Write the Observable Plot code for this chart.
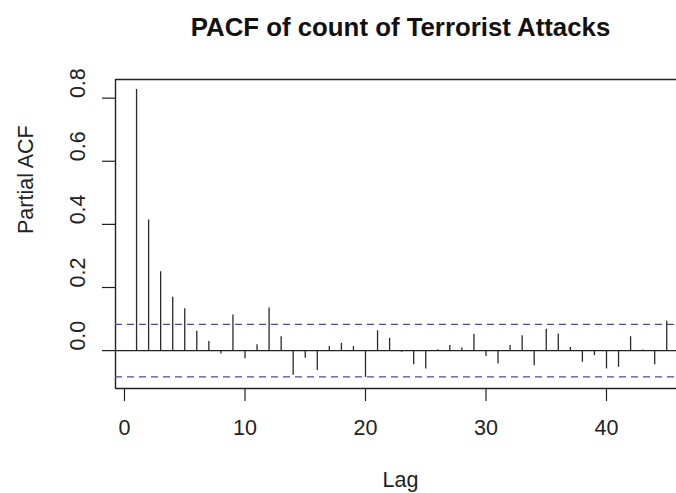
<!DOCTYPE html>
<html>
<head>
<meta charset="utf-8">
<script src="https://cdn.jsdelivr.net/npm/d3@7"></script>
<script src="https://cdn.jsdelivr.net/npm/@observablehq/plot@0.6"></script>
<style>
  html, body { margin: 0; padding: 0; background: #fff; }
  #chart svg { display: block; }
</style>
</head>
<body>
<div id="chart"></div>
<script>
const lags = [1,2,3,4,5,6,7,8,9,10,11,12,13,14,15,16,17,18,19,20,21,22,23,24,25,26,27,28,29,30,31,32,33,34,35,36,37,38,39,40,41,42,43,44,45];
const pacfValues = [0.827,0.414,0.250,0.169,0.133,0.061,0.029,-0.011,0.113,-0.026,0.019,0.135,0.044,-0.078,-0.024,-0.063,0.013,0.023,0.013,-0.085,0.063,0.039,-0.005,-0.045,-0.058,0.003,0.016,0.008,0.052,-0.019,-0.042,0.016,0.047,-0.048,0.068,0.053,0.010,-0.037,-0.016,-0.058,-0.053,0.044,0.002,-0.045,0.093];
const confBounds = [0.083, -0.083];
const xTicks = [0, 10, 20, 30, 40];
const yTicks = [0.0, 0.2, 0.4, 0.6, 0.8];
const yTickLabels = ["0.0", "0.2", "0.4", "0.6", "0.8"];
const titleText = "PACF of count of Terrorist Attacks";
const xLabel = "Lag";
const yLabel = "Partial ACF";

const data = lags.map((l, i) => ({lag: l, pacf: pacfValues[i]}));
const xDomain = [-0.747, 45.81];
const yDomain = [-0.120, 0.859];
const font = "'Liberation Sans', Arial, Helvetica, sans-serif";
const ink = "#222";

const chart = Plot.plot({
  width: 676,
  height: 493,
  marginLeft: 115,
  marginRight: 0,
  marginTop: 79,
  marginBottom: 105,
  style: {fontFamily: font, background: "#fff", color: ink},
  x: {domain: xDomain},
  y: {domain: yDomain},
  marks: [
    // box (top, bottom, left; right side lies beyond the cropped edge)
    Plot.ruleY([yDomain[1]], {stroke: ink, strokeWidth: 1.4}),
    Plot.ruleY([yDomain[0]], {stroke: ink, strokeWidth: 1.4}),
    Plot.ruleX([xDomain[0]], {stroke: ink, strokeWidth: 1.4}),
    // zero line
    Plot.ruleY([0], {stroke: ink, strokeWidth: 1.2}),
    // confidence bounds
    Plot.ruleY(confBounds, {stroke: "#4a4aa6", strokeWidth: 1.3, strokeDasharray: "7,5"}),
    // pacf spikes
    Plot.ruleX(data, {x: "lag", y1: 0, y2: "pacf", stroke: "#2a2a2a", strokeWidth: 1.3}),
    // x axis
    Plot.axisX(xTicks, {tickSize: 13, tickPadding: 18, fontSize: 21.5, stroke: ink, strokeWidth: 1.2, label: null, tickFormat: d => String(d)}),
    // y axis ticks + rotated labels
    Plot.axisY(yTicks, {tickSize: 13, stroke: ink, strokeWidth: 1.2, label: null, tickFormat: () => ""}),
    Plot.text(yTicks, {y: d => d, frameAnchor: "left", dx: -31, rotate: -90, lineAnchor: "bottom", text: (d, i) => yTickLabels[i], fontSize: 21.5, fill: ink}),
    // axis titles
    Plot.text([xLabel], {frameAnchor: "bottom", dy: 98, dx: 4.5, lineAnchor: "bottom", text: d => d, fontSize: 21.5, fill: ink}),
    Plot.text([yLabel], {frameAnchor: "left", dx: -82.6, rotate: -90, lineAnchor: "bottom", text: d => d, fontSize: 21.5, fill: ink}),
    // title
    Plot.text([titleText], {frameAnchor: "top", dy: -44, dx: 4.5, lineAnchor: "bottom", text: d => d, fontSize: 25.8, fontWeight: "bold", fill: "#111"})
  ]
});
document.getElementById("chart").appendChild(chart);
</script>
</body>
</html>
